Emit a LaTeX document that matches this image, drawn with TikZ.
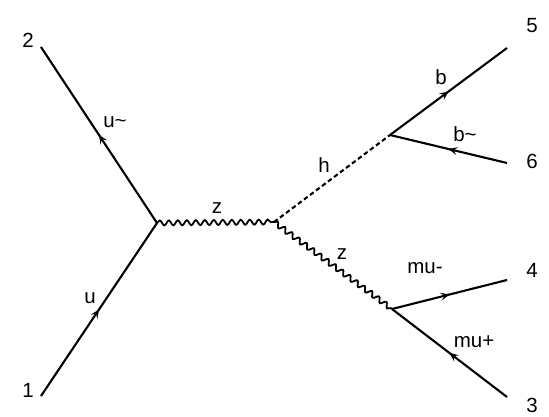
\documentclass[tikz,border=0pt]{standalone}
\usepackage{fontspec}
\setmainfont{Liberation Sans}
\usetikzlibrary{
    arrows.meta,
    decorations.markings,
    decorations.pathmorphing
}

\begin{document}
\begin{tikzpicture}[
    x=1pt, y=-1pt,
    line width=2.1pt,
    every node/.style={
        anchor=base,
        inner sep=0pt,
        font=\fontsize{20.5}{24}\selectfont
    },
    fermion/.style={
        draw,
        postaction={decorate},
        decoration={markings,
            mark=at position 0.5 with {\arrow{Stealth[length=9pt, width=8pt, inset=4pt]}}}
    },
    boson/.style={
        draw,
        line width=1.8pt,
        decorate,
        decoration={snake, segment length=9pt, amplitude=2.5pt}
    },
    scalar/.style={
        draw,
        dash pattern=on 4.5pt off 3pt
    }
]

\useasboundingbox (0,0) rectangle (549,417);

% vertices
\coordinate (v1) at (157,223);
\coordinate (v2) at (274,222);
\coordinate (v3) at (390,135);
\coordinate (v4) at (392,309);

% external legs
\coordinate (e1) at (41,396);
\coordinate (e2) at (41,47);
\coordinate (e3) at (507,397);
\coordinate (e4) at (507,280);
\coordinate (e5) at (507,48);
\coordinate (e6) at (507,163);

\node (n1) at (28,397) {1};
\node (n2) at (28,48) {2};
\node (n3) at (532,412) {3};
\node (n4) at (532,277) {4};
\node (n5) at (532,33) {5};
\node (n6) at (532,168) {6};

% propagators
\draw[fermion] (e1) -- (v1);
\draw[fermion] (v1) -- (e2);
\draw[boson] (v1) -- (v2);
\draw[scalar] (v2) -- (v3);
\draw[boson] (v2) -- (v4);
\draw[fermion] (v3) -- (e5);
\draw[fermion] (e6) -- (v3);
\draw[fermion] (v4) -- (e4);
\draw[fermion] (e3) -- (v4);

% particle labels
\node (lu) at (90,303) {u};
\node (lubar) at (115,128) {u\textasciitilde};
\node (lz1) at (217,213) {z};
\node (lh) at (324,172) {h};
\node (lz2) at (342,259) {z};
\node (lb) at (441,85) {b};
\node (lbbar) at (465,142) {b\textasciitilde};
\node (lmum) at (425,273) {mu-};
\node (lmup) at (474,347) {mu+};

\end{tikzpicture}
\end{document}
